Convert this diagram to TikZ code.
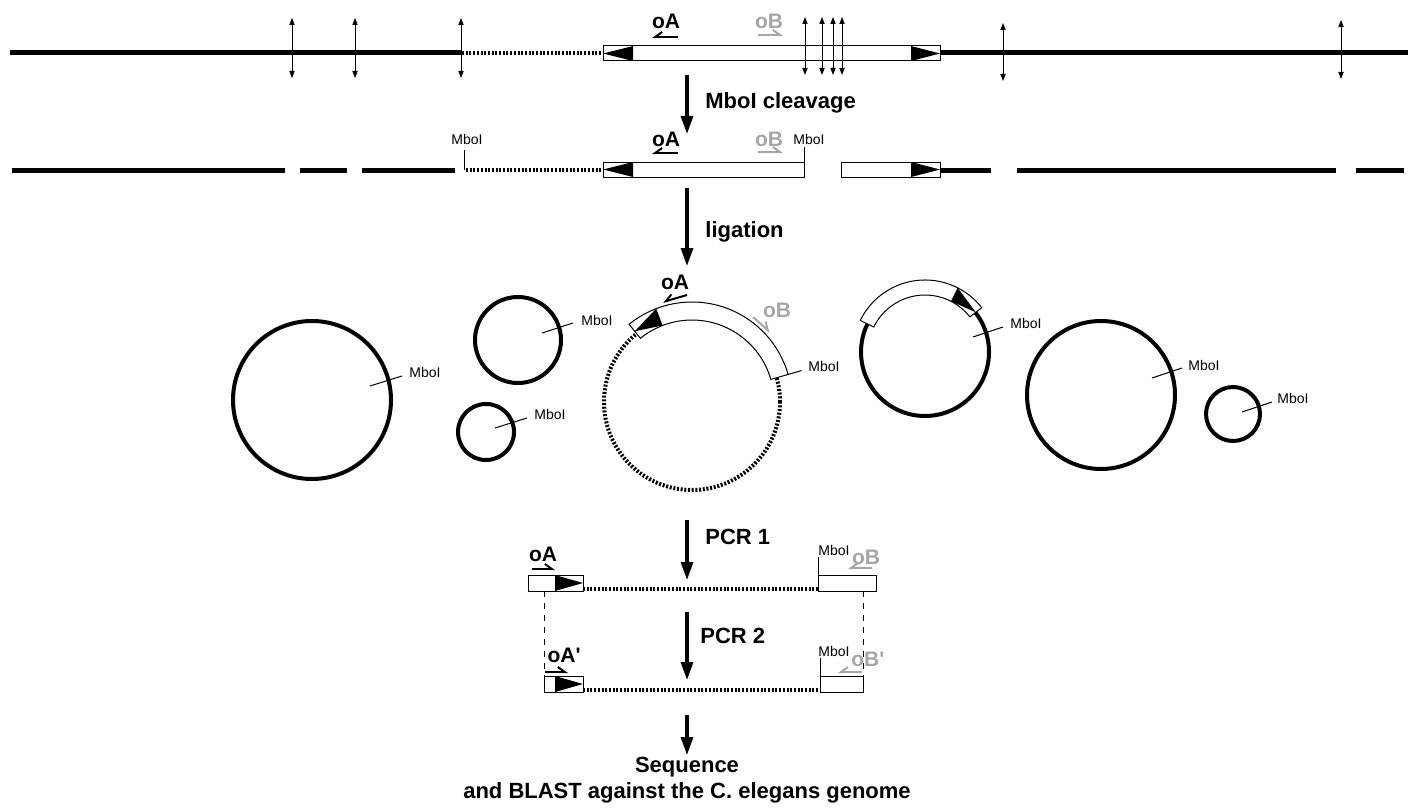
\documentclass[tikz,border=0pt]{standalone}
\usepackage{fontspec}
\setmainfont{Liberation Sans}
\newfontfamily\rawsans{Liberation Sans}
\usetikzlibrary{arrows.meta, positioning, calc}
\definecolor{primerGray}{HTML}{A6A6A6}
\newcommand{\tick}{{\rawsans\bfseries '}}

\begin{document}
\begin{tikzpicture}[x=0.5pt, y=0.5pt,
    dna/.style={line width=2.5pt},
    junk/.style={line width=2pt, dash pattern=on 1pt off 0.85pt},
    ring/.style={line width=2pt},
    tebox/.style={draw, line width=0.5pt, fill=white},
    site/.style={{Triangle[length=3.5pt,width=2.6pt]}-{Triangle[length=3.5pt,width=2.6pt]}, line width=0.45pt},
    cutmark/.style={line width=0.5pt},
    stepArr/.style={-{Triangle[length=9pt,width=6pt]}, line width=1.6pt},
    stepLbl/.style={font=\fontsize{11}{13}\selectfont\bfseries, inner sep=0pt},
    olbl/.style={font=\fontsize{10.5}{12}\selectfont\bfseries, inner sep=0pt},
    mbo/.style={font=\fontsize{7}{8}\selectfont, inner sep=0pt},
    primR/.style={-{Straight Barb[harpoon,length=3.5pt,width=5pt]}, line width=1pt},
    primL/.style={-{Straight Barb[harpoon,swap,length=3.5pt,width=5pt]}, line width=1pt}
  ]
  \useasboundingbox (0,0) rectangle (1412,-808);

  % genomic locus with the insertion
  \draw[dna] (10,-53) -- (462,-53);
  \draw[junk] (462,-53) -- (603,-53);
  \draw[dna] (940,-53) -- (1408,-53);
  \draw[tebox] (603,-46) rectangle (940,-61);
  \fill (603,-53.5) -- (633,-46) -- (633,-61) -- cycle;
  \fill (940,-53.5) -- (911,-46) -- (911,-61) -- cycle;
  \foreach \x/\t/\b in {292/18/78, 355/18/78, 461/18/78, 805/17/75, 822/17/75,
                        833/17/75, 842/17/75, 1003/23/81, 1341/20/79}
    \draw[site] (\x,-\t) -- (\x,-\b);
  \node[olbl] (oA1) at (666,-21) {oA};
  \node[olbl, text=primerGray] (oB1) at (769,-21) {oB};
  \draw[primL] (678,-37) -- (652,-37);
  \draw[primR, primerGray] (758,-35) -- (783,-35);

  \coordinate (s1a) at (687,-75);
  \coordinate (s1b) at (687,-134);
  \draw[stepArr] (s1a) -- (s1b);
  \node[stepLbl, anchor=west] (lblCleave) at (705,-103) {MboI cleavage};

  % digested fragments
  \draw[dna] (12,-170) -- (285,-170);
  \draw[dna] (300,-170) -- (347,-170);
  \draw[dna] (362,-170) -- (455,-170);
  \draw[cutmark] (464,-150) -- (464,-170);
  \draw[junk] (466,-170) -- (603,-170);
  \draw[tebox] (603,-162) rectangle (804,-177);
  \fill (603,-169.5) -- (633,-162) -- (633,-177) -- cycle;
  \draw[cutmark] (804,-162) -- (804,-147);
  \draw[tebox] (841,-162) rectangle (940,-177);
  \fill (940,-169.5) -- (911,-162) -- (911,-177) -- cycle;
  \draw[dna] (940,-170) -- (991,-170);
  \draw[dna] (1017,-170) -- (1336,-170);
  \draw[dna] (1356,-170) -- (1404,-170);
  \node[mbo] (m2a) at (467,-139) {MboI};
  \node[mbo] (m2b) at (809,-139) {MboI};
  \node[olbl] (oA2) at (666,-139) {oA};
  \node[olbl, text=primerGray] (oB2) at (769,-139) {oB};
  \draw[primL] (678,-153) -- (652,-153);
  \draw[primR, primerGray] (758,-152) -- (783,-152);

  \coordinate (s2a) at (687,-188);
  \coordinate (s2b) at (687,-266);
  \draw[stepArr] (s2a) -- (s2b);
  \node[stepLbl, anchor=west] (lblLig) at (705,-232) {ligation};

  % circles after ligation
  \draw[ring] (312,-400) circle (79);
  \draw[cutmark] (370,-386) -- (402,-376);
  \node[mbo, anchor=west] (m3a) at (409,-372) {MboI};

  \draw[ring] (518,-340) circle (43);
  \draw[cutmark] (542,-333) -- (573,-323);
  \node[mbo, anchor=west] (m3b) at (581,-320) {MboI};

  \draw[ring] (486,-432) circle (28);
  \draw[cutmark] (495,-428) -- (527,-418);
  \node[mbo, anchor=west] (m3c) at (534,-414) {MboI};

  \begin{scope}[shift={(692,-402)}]
    \draw[junk] (0,0) circle (88);
    \draw[tebox] (16:82) arc[start angle=16, end angle=129, radius=82]
      -- (129:100) arc[start angle=129, end angle=16, radius=100] -- cycle;
    \fill (129:91) -- (111:82) -- (111:100) -- cycle;
    \draw[cutmark] (16:100) -- (16:114);
  \end{scope}
  \node[mbo, anchor=west] (m3d) at (808,-366) {MboI};
  \node[olbl] (oA3) at (675,-282) {oA};
  \node[olbl, text=primerGray] (oB3) at (777,-310) {oB};
  \draw[primL] (687,-295) -- (663,-302);
  \draw[primR, primerGray] (753,-317) -- (770,-332);

  \begin{scope}[shift={(925,-352)}]
    \draw[ring] (0,0) circle (64);
    \draw[tebox] (38:57) arc[start angle=38, end angle=154, radius=57]
      -- (154:72) arc[start angle=154, end angle=38, radius=72] -- cycle;
    \fill (38:64.5) -- (63:57) -- (63:72) -- cycle;
  \end{scope}
  \draw[cutmark] (973,-337) -- (1003,-327);
  \node[mbo, anchor=west] (m3e) at (1010,-323) {MboI};

  \draw[ring] (1101,-395) circle (74);
  \draw[cutmark] (1152,-378) -- (1182,-368);
  \node[mbo, anchor=west] (m3f) at (1188,-365) {MboI};

  \draw[ring] (1233,-414) circle (27);
  \draw[cutmark] (1242,-412) -- (1272,-402);
  \node[mbo, anchor=west] (m3g) at (1277,-398) {MboI};

  \coordinate (s3a) at (687,-520);
  \coordinate (s3b) at (687,-580);
  \draw[stepArr] (s3a) -- (s3b);
  \node[stepLbl, anchor=west] (lblPcrA) at (705,-537) {PCR 1};

  % PCR 1 product
  \draw[junk, line width=1.8pt] (583,-589) -- (818,-589);
  \draw[tebox] (528,-575) rectangle (583,-591);
  \fill (583,-583) -- (555,-575) -- (555,-591) -- cycle;
  \draw[tebox] (818,-575) rectangle (876,-591);
  \draw[cutmark] (818,-575) -- (818,-557);
  \node[olbl] (oA4) at (543,-554) {oA};
  \node[mbo] (m4) at (834,-550) {MboI};
  \node[olbl, text=primerGray] (oB4) at (866,-557) {oB};
  \draw[primR] (532,-569) -- (555,-569);
  \draw[primL, primerGray] (872,-568) -- (848,-568);

  \draw[dashed, line width=0.4pt] (544,-591) -- (544,-676);
  \draw[dashed, line width=0.4pt] (863,-591) -- (863,-676);

  \coordinate (s4a) at (687,-612);
  \coordinate (s4b) at (687,-680);
  \draw[stepArr] (s4a) -- (s4b);
  \node[stepLbl, anchor=west] (lblPcrB) at (700,-636) {PCR 2};

  % PCR 2 product
  \draw[junk, line width=1.8pt] (583,-690) -- (820,-690);
  \draw[tebox] (544,-676) rectangle (583,-692);
  \fill (583,-684) -- (555,-676) -- (555,-692) -- cycle;
  \draw[tebox] (820,-676) rectangle (863,-692);
  \draw[cutmark] (820,-676) -- (820,-658);
  \node[olbl] (oA5) at (564,-655) {oA\tick};
  \node[mbo] (m5) at (834,-651) {MboI};
  \node[olbl, text=primerGray, anchor=west] (oB5) at (851,-659) {oB\tick};
  \draw[primR] (545,-672) -- (568,-672);
  \draw[primL, primerGray] (862,-672) -- (838,-672);

  \coordinate (s5a) at (687,-715);
  \coordinate (s5b) at (687,-755);
  \draw[stepArr] (s5a) -- (s5b);
  \node[stepLbl, align=center] (lblSeq) at (687,-780) {Sequence\\and BLAST against the C. elegans genome};
\end{tikzpicture}
\end{document}
